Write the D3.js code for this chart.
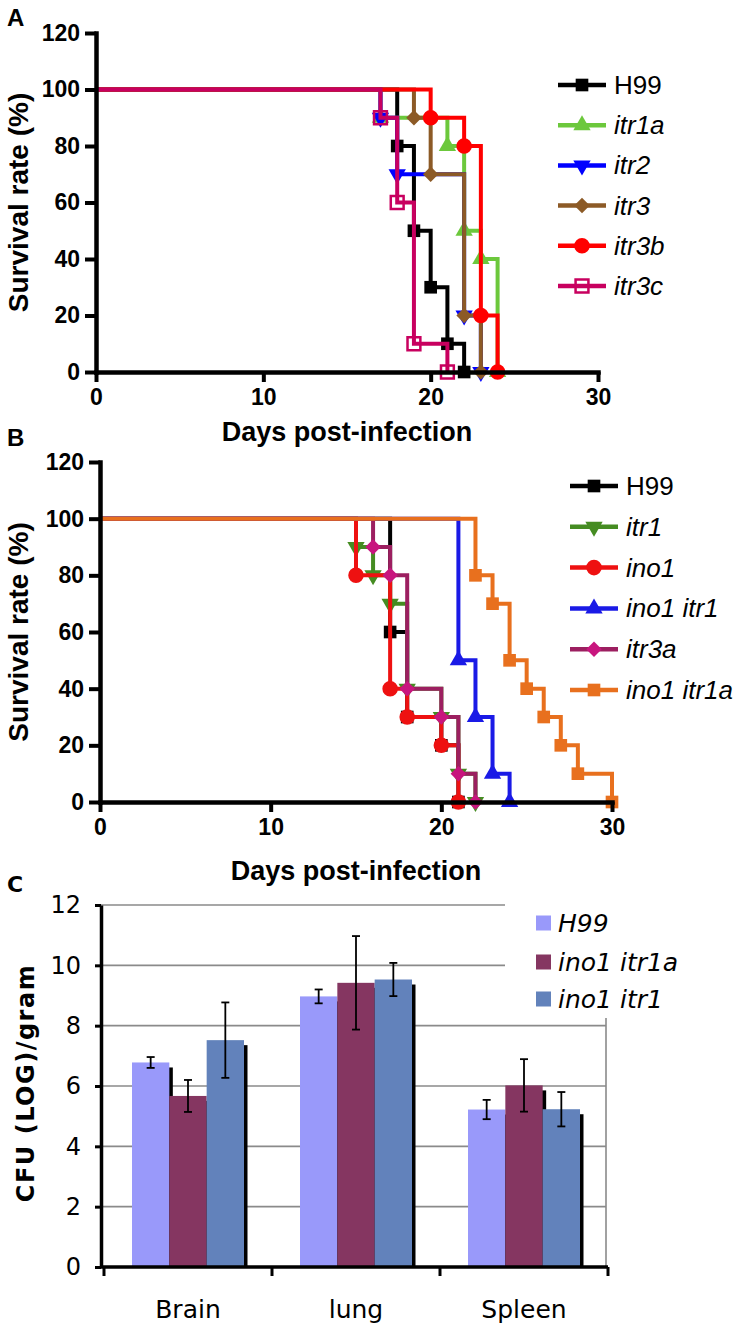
<!DOCTYPE html>
<html><head><meta charset="utf-8">
<script src="https://cdn.jsdelivr.net/npm/d3@7"></script>
<style>body{margin:0;background:#fff} svg{display:block}</style>
</head><body><svg id="c" width="750" height="1326"></svg>
<script>
// ---------- DATA ----------
const dayTicks = [0, 10, 20, 30];
const survTicks = [0, 20, 40, 60, 80, 100, 120];

// Panel A: events [day, survival %]
const aH99   = [[18,80],[19,50],[20,30],[21,10],[22,0]];
const aItr1a = [[17,90],[21,80],[22,50],[23,40],[24,0]];
const aItr2  = [[17,90],[18,70],[22,20],[23,0]];
const aItr3  = [[19,90],[20,70],[22,20],[23,0]];
const aItr3b = [[20,90],[22,80],[23,20],[24,0]];
const aItr3c = [[17,90],[18,60],[19,10],[21,0]];
const namesA = ["H99","itr1a","itr2","itr3","itr3b","itr3c"];

// Panel B
const bH99       = [[17,60],[18,30],[20,20],[21,0]];
const bItr1      = [[15,90],[16,80],[17,70],[18,40],[20,30],[21,10],[22,0]];
const bIno1      = [[15,80],[17,40],[18,30],[20,20],[21,0]];
const bIno1Itr1  = [[21,50],[22,30],[23,10],[24,0]];
const bItr3a     = [[16,90],[17,80],[18,40],[20,30],[21,10],[22,0]];
const bIno1Itr1a = [[22,80],[23,70],[24,50],[25,40],[26,30],[27,20],[28,10],[30,0]];
const namesB = ["H99","itr1","ino1","ino1 itr1","itr3a","ino1 itr1a"];

// Panel C
const organs = ["Brain","lung","Spleen"];
const namesC = ["H99","ino1 itr1a","ino1 itr1"];
const cH99          = [6.78, 8.97, 5.22];
const cH99Err       = [0.18, 0.23, 0.32];
const cIno1Itr1a    = [5.67, 9.42, 6.02];
const cIno1Itr1aErr = [0.53, 1.55, 0.87];
const cIno1Itr1     = [7.52, 9.53, 5.23];
const cIno1Itr1Err  = [1.25, 0.55, 0.57];
const cfuTicks = [0, 2, 4, 6, 8, 10, 12];

// ---------- STYLES ----------
const stylesA = [
  {line:"#000000", fill:"#000000", sym:"square"},
  {line:"#6cc83c", fill:"#6cc83c", sym:"triangle"},
  {line:"#0000ff", fill:"#0000ff", sym:"triangleDown"},
  {line:"#8c5a26", fill:"#8c5a26", sym:"diamond"},
  {line:"#ff0000", fill:"#ff0000", sym:"circle"},
  {line:"#c8005f", fill:"none",    sym:"openSquare"}
];
const stylesB = [
  {line:"#000000", fill:"#000000", sym:"square"},
  {line:"#458c22", fill:"#458c22", sym:"triangleDown"},
  {line:"#ee1111", fill:"#ee1111", sym:"circle"},
  {line:"#1a1ae6", fill:"#1a1ae6", sym:"triangle"},
  {line:"#9c1f60", fill:"#c8157e", sym:"diamond"},
  {line:"#e8701e", fill:"#e8701e", sym:"square"}
];
const colorsC = ["#9999fa", "#853661", "#6282bb"];

const svg = d3.select("#c");
const SANS = "'Liberation Sans', Arial, sans-serif";
const VERD = "'DejaVu Sans', Verdana, sans-serif";

function symbolPath(kind){
  switch(kind){
    case "square": return {d:d3.symbol().type(d3.symbolSquare).size(160)(), rot:0};
    case "openSquare": return {d:d3.symbol().type(d3.symbolSquare).size(165)(), rot:0};
    case "circle": return {d:d3.symbol().type(d3.symbolCircle).size(190)(), rot:0};
    case "triangle": return {d:d3.symbol().type(d3.symbolTriangle).size(130)(), rot:0};
    case "triangleDown": return {d:d3.symbol().type(d3.symbolTriangle).size(130)(), rot:180};
    case "diamond": return {d:d3.symbol().type(d3.symbolSquare).size(120)(), rot:45};
  }
}
function drawMarker(g, st, x, y){
  const s = symbolPath(st.sym);
  g.append("path").attr("d", s.d)
    .attr("transform", `translate(${x},${y}) rotate(${s.rot})`)
    .attr("fill", st.fill)
    .attr("stroke", st.sym==="openSquare" ? st.line : "none")
    .attr("stroke-width", st.sym==="openSquare" ? 2.5 : 0);
}

function survivalPanel(o){
  const x = d3.scaleLinear().domain([0,30]).range(o.xr);
  const y = d3.scaleLinear().domain([0,120]).range(o.yr);
  const g = svg.append("g");
  const line = d3.line().x(d=>x(d[0])).y(d=>y(d[1]));
  o.series.forEach((ev,i)=>{
    const st = o.styles[i];
    const pts = [[0,100]];
    let prev = 100;
    ev.forEach(e=>{ pts.push([e[0],prev]); pts.push([e[0],e[1]]); prev = e[1]; });
    g.append("path").attr("d", line(pts)).attr("fill","none")
      .attr("stroke", st.line).attr("stroke-width", 4).attr("stroke-linejoin","miter");
    ev.forEach(e=> drawMarker(g, st, x(e[0]), y(e[1])));
  });
  // axes
  const ax = svg.append("g").attr("transform",`translate(0,${o.yr[0]})`)
    .call(d3.axisBottom(x).tickValues(dayTicks).tickSize(10).tickSizeOuter(0).tickPadding(7));
  const ay = svg.append("g").attr("transform",`translate(${o.xr[0]},0)`)
    .call(d3.axisLeft(y).tickValues(survTicks).tickSize(11).tickSizeOuter(0).tickPadding(5));
  [ax,ay].forEach(a=>{
    a.select(".domain").attr("stroke","#000").attr("stroke-width",4.5).attr("stroke-linecap","square");
    a.selectAll(".tick line").attr("stroke","#000").attr("stroke-width",4);
    a.selectAll(".tick text").attr("fill","#000").style("font-family",SANS)
      .style("font-weight","bold").style("font-size","23px");
  });
  // titles
  svg.append("text").attr("x",(o.xr[0]+o.xr[1])/2).attr("y",o.xTitleY)
    .attr("text-anchor","middle").style("font-family",SANS).style("font-weight","bold")
    .style("font-size","27px").text("Days post-infection");
  svg.append("text").attr("transform",`translate(28,${(o.yr[0]+o.yr[1])/2}) rotate(-90)`)
    .attr("text-anchor","middle").style("font-family",SANS).style("font-weight","bold")
    .style("font-size","28px").text("Survival rate (%)");
  svg.append("text").attr("x",7).attr("y",o.labelY).style("font-family",SANS)
    .style("font-weight","bold").style("font-size","24px").text(o.label);
  // legend
  const lg = svg.append("g");
  o.names.forEach((n,i)=>{
    const st = o.styles[i];
    const yy = o.legY + i*o.legStep;
    lg.append("line").attr("x1",o.legX).attr("x2",o.legX+48).attr("y1",yy).attr("y2",yy)
      .attr("stroke",st.line).attr("stroke-width",4.5);
    drawMarker(lg, st, o.legX+24, yy);
    lg.append("text").attr("x",o.legX+56).attr("y",yy+9)
      .style("font-family",SANS).style("font-size","26px")
      .style("font-style", n==="H99" ? "normal" : "italic").text(n);
  });
}

survivalPanel({
  xr:[96,598], yr:[372,33], series:[aH99,aItr1a,aItr2,aItr3,aItr3b,aItr3c],
  styles:stylesA, names:namesA, xTitleY:441, label:"A", labelY:26,
  legX:558, legY:85, legStep:40.2
});
survivalPanel({
  xr:[100,612], yr:[802,462], series:[bH99,bItr1,bIno1,bIno1Itr1,bItr3a,bIno1Itr1a],
  styles:stylesB, names:namesB, xTitleY:880, label:"B", labelY:446,
  legX:570, legY:486, legStep:40.8
});

// ---------- Panel C ----------
(function(){
  const x0 = d3.scaleBand().domain(organs).range([104,608]);
  const x1 = d3.scaleBand().domain(namesC).range([28, 140]);
  const y = d3.scaleLinear().domain([0,12]).range([1267,905]);
  const g = svg.append("g");
  // gridlines
  cfuTicks.filter(t=>t>0).forEach(t=>{
    g.append("line").attr("x1",101).attr("x2",606).attr("y1",y(t)).attr("y2",y(t))
      .attr("stroke","#8a8a8a").attr("stroke-width",1.6);
  });
  g.append("line").attr("x1",606).attr("x2",606).attr("y1",y(12)).attr("y2",y(0))
    .attr("stroke","#8a8a8a").attr("stroke-width",1.6);
  const vals = [cH99, cIno1Itr1a, cIno1Itr1];
  const errs = [cH99Err, cIno1Itr1aErr, cIno1Itr1Err];
  const bw = x1.bandwidth();
  namesC.forEach((n,si)=>{
    organs.forEach((org,oi)=>{
      const bx = x0(org)+x1(n), v = vals[si][oi];
      g.append("rect").attr("x",bx+3.5).attr("y",y(v)+5).attr("width",bw)
        .attr("height",y(0)-y(v)-5).attr("fill","#000");
      g.append("rect").attr("x",bx).attr("y",y(v)).attr("width",bw)
        .attr("height",y(0)-y(v)).attr("fill",colorsC[si]);
    });
  });
  namesC.forEach((n,si)=>{
    organs.forEach((org,oi)=>{
      const cx = x0(org)+x1(n)+bw/2, v = vals[si][oi], e = errs[si][oi];
      const eg = g.append("g").attr("stroke","#000").attr("stroke-width",1.8);
      eg.append("line").attr("x1",cx).attr("x2",cx).attr("y1",y(v+e)).attr("y2",y(v-e));
      eg.append("line").attr("x1",cx-4).attr("x2",cx+4).attr("y1",y(v+e)).attr("y2",y(v+e));
      eg.append("line").attr("x1",cx-4).attr("x2",cx+4).attr("y1",y(v-e)).attr("y2",y(v-e));
    });
  });
  // legend (white box hides gridlines)
  const lg = svg.append("g");
  lg.append("rect").attr("x",505).attr("y",893).attr("width",245).attr("height",125).attr("fill","#fff");
  namesC.forEach((n,i)=>{
    const yy = [923,962,999][i];
    lg.append("rect").attr("x",536).attr("y",yy-7.5).attr("width",15).attr("height",15).attr("fill",colorsC[i]);
    lg.append("text").attr("x",558).attr("y",yy+9).style("font-family",VERD)
      .style("font-style","italic").style("font-size","25px").text(n);
  });
  // axes
  const ay = svg.append("g").attr("transform","translate(101,0)")
    .call(d3.axisLeft(y).tickValues(cfuTicks).tickSize(6).tickSizeOuter(0).tickPadding(14));
  ay.select(".domain").attr("stroke","#000").attr("stroke-width",3.5);
  ay.selectAll(".tick line").attr("stroke","#000").attr("stroke-width",3);
  ay.selectAll(".tick text").attr("fill","#000").style("font-family",VERD).style("font-size","24px");
  const ax = svg.append("g").attr("transform","translate(0,1267)");
  ax.append("line").attr("x1",100).attr("x2",608).attr("y1",0).attr("y2",0)
    .attr("stroke","#000").attr("stroke-width",3.5);
  const bounds = organs.map(o=>x0(o)).concat([x0.range()[1]]);
  bounds.forEach(b=>{
    ax.append("line").attr("x1",b).attr("x2",b).attr("y1",0).attr("y2",9)
      .attr("stroke","#000").attr("stroke-width",3);
  });
  organs.forEach(o=>{
    ax.append("text").attr("x",x0(o)+x0.bandwidth()/2).attr("y",51).attr("text-anchor","middle")
      .style("font-family",VERD).style("font-size","25px").text(o);
  });
  svg.append("text").attr("transform","translate(34,1083) rotate(-90)").attr("text-anchor","middle")
    .style("font-family",VERD).style("font-weight","bold").style("font-size","24px")
    .style("letter-spacing","1.5px").text("CFU (LOG)/gram");
  svg.append("text").attr("x",7).attr("y",892).style("font-family",VERD)
    .style("font-weight","bold").style("font-size","22px").text("C");
})();
</script>
</body></html>
